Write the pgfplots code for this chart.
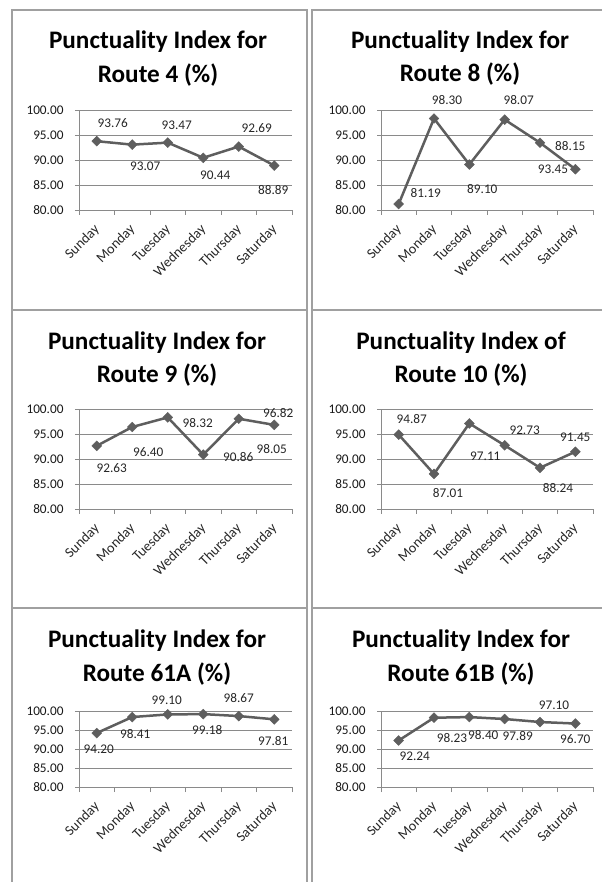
\documentclass[border=0pt]{standalone}
\usepackage{pgfplots}
\pgfplotsset{compat=1.18}
\usepackage{fontspec}
\setmainfont{Carlito}
\definecolor{linegray}{HTML}{5E5E5E}
\definecolor{gridgray}{HTML}{8A8A8A}
\definecolor{framegray}{HTML}{A0A0A0}
\newcommand\lbl{\fontsize{13.3}{15}\selectfont}
\newcommand\xlbl{\fontsize{14.2}{16}\selectfont}
\newcommand\ttl{\fontsize{25.3}{30}\selectfont\bfseries}
\pgfkeys{/pgf/number format/assume math mode=true}
\pgfplotsset{
 panel/.style={
  scale only axis, clip=false,
  xmin=0.5, xmax=6.5, ymin=80, ymax=100,
  xtick={1,...,6},
  xticklabels={Sunday,Monday,Tuesday,Wednesday,Thursday,Saturday},
  minor xtick={0.5,1.5,...,6.5},
  major x tick style={draw opacity=0},
  ytick={80,85,...,100},
  axis x line*=bottom, axis y line*=left,
  axis line style={draw=gridgray, line width=0.8bp},
  tick align=outside,
  major tick length=4bp, minor tick length=5bp,
  tick style={draw=gridgray, line width=0.8bp},
  ymajorgrids, major grid style={draw=gridgray, line width=0.8bp},
  yticklabel shift=8bp,
  xticklabel shift=11bp,
  yticklabel style={font=\lbl, text=black!90, /pgf/number format/fixed, /pgf/number format/fixed zerofill, /pgf/number format/precision=2},
  xticklabel style={font=\xlbl, text=black!85, xshift=3bp, rotate=45, anchor=east},
 },
 route/.style={draw=linegray, line width=2.5bp, mark=square*, mark size=3.5bp,
   mark options={rotate=45, fill=linegray, draw=linegray, line width=0.4bp},
   point meta=y,
   nodes near coords={\pgfmathprintnumber[fixed,fixed zerofill,precision=2]{\pgfplotspointmeta}},
   visualization depends on={value \thisrow{dx}\as\dx},
   visualization depends on={value \thisrow{dy}\as\dy},
   nodes near coords style={font=\lbl, text=black!85, anchor=center, xshift=\dx bp, yshift=\dy bp, inner sep=0pt}
 }
}
\begin{document}
\begin{tikzpicture}
\useasboundingbox (0,0) rectangle (602bp,882bp);
% frames
\draw[framegray, line width=2bp] (12bp,-5bp) -- (12bp,872bp) -- (307bp,872bp) -- (307bp,-5bp);
\draw[framegray, line width=2bp] (12bp,572bp) -- (307bp,572bp);
\draw[framegray, line width=2bp] (12bp,274bp) -- (307bp,274bp);
\draw[framegray, line width=2bp] (312bp,-5bp) -- (312bp,872bp) -- (610bp,872bp);
\draw[framegray, line width=2bp] (312bp,572bp) -- (610bp,572bp);
\draw[framegray, line width=2bp] (312bp,274bp) -- (610bp,274bp);
% titles
\node[anchor=base, font=\ttl] at (158bp,833bp) {Punctuality Index for};
\node[anchor=base, font=\ttl] at (158bp,799bp) {Route 4 (\%)};
\node[anchor=base, font=\ttl] at (460bp,833bp) {Punctuality Index for};
\node[anchor=base, font=\ttl] at (460bp,800bp) {Route 8 (\%)};
\node[anchor=base, font=\ttl] at (157bp,532bp) {Punctuality Index for};
\node[anchor=base, font=\ttl] at (157bp,499bp) {Route 9 (\%)};
\node[anchor=base, font=\ttl] at (461bp,532bp) {Punctuality Index of};
\node[anchor=base, font=\ttl] at (461bp,499bp) {Route 10 (\%)};
\node[anchor=base, font=\ttl] at (157bp,234bp) {Punctuality Index for};
\node[anchor=base, font=\ttl] at (157bp,200bp) {Route 61A (\%)};
\node[anchor=base, font=\ttl] at (461bp,234bp) {Punctuality Index for};
\node[anchor=base, font=\ttl] at (461bp,200bp) {Route 61B (\%)};
% Route 4
\begin{axis}[panel, width=213bp, height=100bp, at={(79bp,672bp)}, anchor=south west]
\addplot[route] table[x=x,y=y]{
x y dx dy
1 93.76 16 18
2 93.07 13 -22
3 93.47 9 17
4 90.44 12 -17
5 92.69 18 18
6 88.89 -1 -24
};
\end{axis}
% Route 8
\begin{axis}[panel, width=212bp, height=100bp, at={(381bp,672bp)}, anchor=south west]
\addplot[route] table[x=x,y=y]{
x y dx dy
1 81.19 27 11
2 98.30 13 18
3 89.10 13 -25
4 98.07 14 20
5 93.45 13 -27
6 88.15 -5 23
};
\end{axis}
% Route 9
\begin{axis}[panel, width=213bp, height=100bp, at={(79bp,373bp)}, anchor=south west]
\addplot[route] table[x=x,y=y]{
x y dx dy
1 92.63 15 -22
2 96.40 16 -25
3 98.32 30 -6
4 90.86 35 -2
5 98.05 33 -30
6 96.82 4 12
};
\end{axis}
% Route 10
\begin{axis}[panel, width=212bp, height=100bp, at={(381bp,373bp)}, anchor=south west]
\addplot[route] table[x=x,y=y]{
x y dx dy
1 94.87 13 16
2 87.01 14 -19
3 97.11 16 -33
4 92.73 20 15
5 88.24 18 -20
6 91.45 0 14
};
\end{axis}
% Route 61A
\begin{axis}[panel, width=213bp, height=76bp, at={(79bp,95bp)}, anchor=south west]
\addplot[route] table[x=x,y=y]{
x y dx dy
1 94.20 2 -16
2 98.41 3 -17
3 99.10 -1 14
4 99.18 4 -16
5 98.67 0 18
6 97.81 -1 -22
};
\end{axis}
% Route 61B
\begin{axis}[panel, width=212bp, height=76bp, at={(381bp,95bp)}, anchor=south west]
\addplot[route] table[x=x,y=y]{
x y dx dy
1 92.24 16 -16
2 98.23 18 -20
3 98.40 14 -18
4 97.89 13 -17
5 97.10 14 17
6 96.70 0 -16
};
\end{axis}
\end{tikzpicture}
\end{document}
